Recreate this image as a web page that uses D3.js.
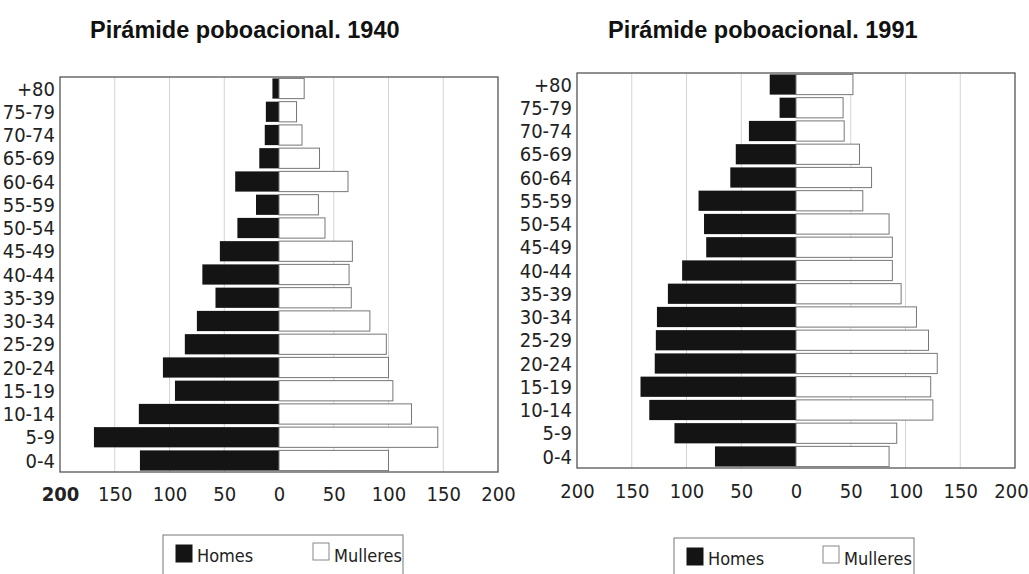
<!DOCTYPE html>
<html>
<head>
<meta charset="utf-8">
<script src="https://cdn.jsdelivr.net/npm/d3@7"></script>
<style>
  body { margin: 0; background: #fff; }
  .lab { font-family: 'Liberation Sans Narrow', 'DejaVu Sans Condensed', sans-serif; fill: #222; }
  .ttl { font-family: 'Liberation Sans', Arial, sans-serif; font-weight: bold; fill: #111; }
</style>
</head>
<body>
<script>
// grupos de idade, de arriba a abaixo
const ageGroups = ['+80', '75-79', '70-74', '65-69', '60-64', '55-59', '50-54', '45-49', '40-44',
    '35-39', '30-34', '25-29', '20-24', '15-19', '10-14', '5-9', '0-4'];

const men1940 = [6, 12, 13, 18, 40, 21, 38, 54, 70, 58, 75, 86, 106, 95, 128, 169, 127];
const women1940 = [23, 16, 21, 37, 63, 36, 42, 67, 64, 66, 83, 98, 100, 104, 121, 145, 100];

const men1991 = [24, 15, 43, 55, 60, 89, 84, 82, 104, 117, 127, 128, 129, 142, 134, 111, 74];
const women1991 = [52, 43, 44, 58, 69, 61, 85, 88, 88, 96, 110, 121, 129, 123, 125, 92, 85];

const ticks = [-200, -150, -100, -50, 0, 50, 100, 150, 200];
const legendItems = ['Homes', 'Mulleres'];

const W = 1029, H = 574;

const svg = d3.select('body').append('svg')
    .attr('width', W)
    .attr('height', H);

function pyramid(opt) {
    const x = d3.scaleLinear()
        .domain([-200, 200])
        .range([opt.left, opt.right]);
    const y = d3.scaleBand()
        .domain(ageGroups)
        .range([opt.top, opt.bottom])
        .paddingInner(0.13)
        .paddingOuter(0.06);

    const g = svg.append('g');

    g.append('text')
        .attr('class', 'ttl')
        .attr('x', opt.titleX)
        .attr('y', 38)
        .style('font-size', '23.5px')
        .text(opt.title);

    // lineas de grella
    g.selectAll('line.grid')
        .data(ticks.filter(d => d != 0 && Math.abs(d) != 200))
        .enter()
        .append('line')
        .attr('class', 'grid')
        .attr('x1', d => x(d))
        .attr('x2', d => x(d))
        .attr('y1', opt.top)
        .attr('y2', opt.bottom)
        .attr('stroke', '#d4d4d4')
        .attr('stroke-width', 1);

    // homes
    g.selectAll('rect.men')
        .data(opt.men)
        .enter()
        .append('rect')
        .attr('class', 'men')
        .attr('x', d => x(-d))
        .attr('y', (d, i) => y(ageGroups[i]))
        .attr('width', d => x(0) - x(-d))
        .attr('height', y.bandwidth())
        .attr('fill', '#141414');

    // mulleres
    g.selectAll('rect.women')
        .data(opt.women)
        .enter()
        .append('rect')
        .attr('class', 'women')
        .attr('x', x(0))
        .attr('y', (d, i) => y(ageGroups[i]))
        .attr('width', d => x(d) - x(0))
        .attr('height', y.bandwidth())
        .attr('fill', '#fff')
        .attr('stroke', '#777')
        .attr('stroke-width', 1);

    g.append('rect')
        .attr('x', opt.left)
        .attr('y', opt.top)
        .attr('width', opt.right - opt.left)
        .attr('height', opt.bottom - opt.top)
        .attr('fill', 'none')
        .attr('stroke', '#555')
        .attr('stroke-width', 1.3);

    const yAxis = d3.axisLeft(y).tickSize(0).tickPadding(4);
    const ya = g.append('g')
        .attr('transform', 'translate(' + (opt.left - 1) + ',0)')
        .call(yAxis);
    ya.select('.domain').remove();
    ya.selectAll('text')
        .attr('class', 'lab')
        .attr('dy', '0.36em')
        .style('font-size', '20px');

    const xAxis = d3.axisBottom(x).tickValues(ticks).tickSize(0).tickFormat(d => Math.abs(d));
    const xa = g.append('g')
        .attr('transform', 'translate(0,' + opt.axisY + ')')
        .call(xAxis);
    xa.select('.domain').remove();
    xa.selectAll('text')
        .attr('class', 'lab')
        .attr('y', 0)
        .attr('dy', 0)
        .attr('dx', (d, i) => i == ticks.length - 1 ? opt.lastDx : 0)
        .style('font-size', '20px')
        .style('font-weight', (d, i) => (opt.boldFirst && i == 0) ? 'bold' : null);

    // lenda
    const lg = g.append('g');
    lg.append('rect')
        .attr('x', opt.legX)
        .attr('y', opt.legY)
        .attr('width', 240)
        .attr('height', 60)
        .attr('fill', 'none')
        .attr('stroke', '#777')
        .attr('stroke-width', 1);
    lg.selectAll('rect.sw')
        .data(legendItems)
        .enter()
        .append('rect')
        .attr('class', 'sw')
        .attr('x', (d, i) => opt.legX + 13 + i * opt.legStep)
        .attr('y', (d, i) => opt.legY + 10 - i * 2)
        .attr('width', 16)
        .attr('height', 17)
        .attr('fill', (d, i) => i == 0 ? '#141414' : '#fff')
        .attr('stroke', (d, i) => i == 0 ? '#141414' : '#888');
    lg.selectAll('text.lt')
        .data(legendItems)
        .enter()
        .append('text')
        .attr('class', 'lab lt')
        .attr('x', (d, i) => opt.legX + 34 + i * opt.legStep)
        .attr('y', opt.legY + 27)
        .style('font-size', '18px')
        .text(d => d);
}

pyramid({
    title: 'Pirámide poboacional. 1940',
    titleX: 90,
    men: men1940,
    women: women1940,
    left: 60, right: 498, top: 77, bottom: 472,
    axisY: 501,
    boldFirst: true,
    lastDx: 0,
    legX: 163, legY: 535, legStep: 137
});

pyramid({
    title: 'Pirámide poboacional. 1991',
    titleX: 608,
    men: men1991,
    women: women1991,
    left: 577, right: 1015, top: 73, bottom: 468,
    axisY: 498,
    boldFirst: false,
    lastDx: -4,
    legX: 674, legY: 538, legStep: 136
});
</script>
</body>
</html>
